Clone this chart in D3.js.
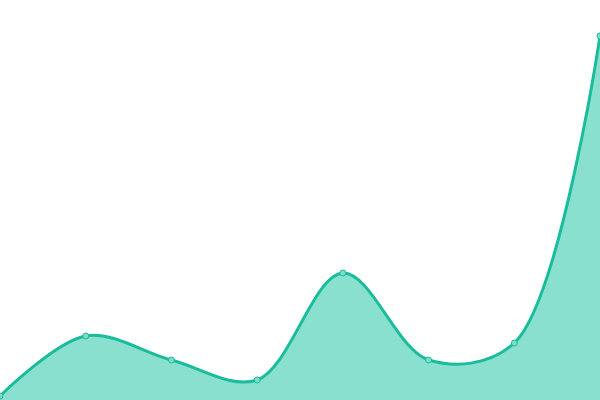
<!DOCTYPE html>
<html><head><meta charset="utf-8">
<script src="https://cdn.jsdelivr.net/npm/d3@7"></script>
<style>body{margin:0;background:#fff}svg{display:block}</style>
</head><body>
<svg id="c" width="600" height="400"></svg>
<script>
const categories = [0, 1, 2, 3, 4, 5, 6, 7];
const values = [4, 64, 40, 20, 127, 40, 57, 364];
const yMax = 400;

const W = 600, H = 400;
const svg = d3.select('#c');
const x = d3.scaleLinear().domain([0, categories.length - 1]).range([0, W]);
const y = d3.scaleLinear().domain([0, yMax]).range([H, 0]);
const data = categories.map((c, i) => ({c, v: values[i]}));
const curve = d3.curveCatmullRom.alpha(0.5);

svg.append('path').datum(data)
  .attr('d', d3.area().x(d => x(d.c)).y0(H).y1(d => y(d.v)).curve(curve))
  .attr('fill', '#8ae0cf');
svg.append('path').datum(data)
  .attr('d', d3.line().x(d => x(d.c)).y(d => y(d.v)).curve(curve))
  .attr('fill', 'none').attr('stroke', '#1abc9c').attr('stroke-width', 3);
svg.selectAll('circle').data(data).enter().append('circle')
  .attr('cx', d => x(d.c)).attr('cy', d => y(d.v)).attr('r', 3)
  .attr('fill', '#7fdcc8').attr('stroke', '#1abc9c').attr('stroke-width', 1);
</script>
</body></html>
